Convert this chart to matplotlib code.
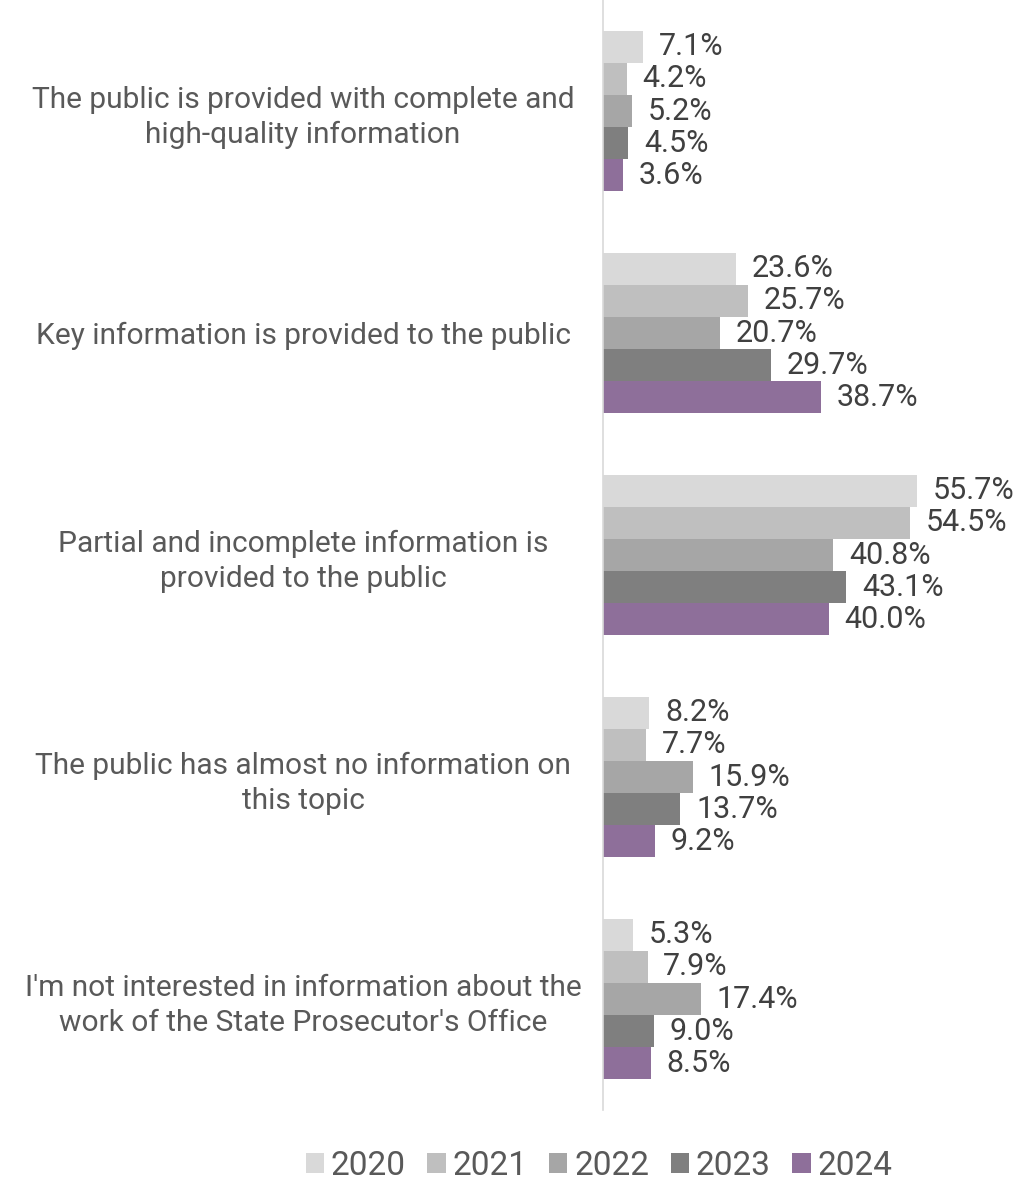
import matplotlib
matplotlib.use("Agg")
import matplotlib.pyplot as plt
import numpy as np

categories = [
    "The public is provided with complete and\nhigh-quality information",
    "Key information is provided to the public",
    "Partial and incomplete information is\nprovided to the public",
    "The public has almost no information on\nthis topic",
    "I'm not interested in information about the\nwork of the State Prosecutor's Office",
]
years = ["2020", "2021", "2022", "2023", "2024"]
values = {
    "2020": [7.1, 23.6, 55.7, 8.2, 5.3],
    "2021": [4.2, 25.7, 54.5, 7.7, 7.9],
    "2022": [5.2, 20.7, 40.8, 15.9, 17.4],
    "2023": [4.5, 29.7, 43.1, 13.7, 9.0],
    "2024": [3.6, 38.7, 40.0, 9.2, 8.5],
}
colors = ["#D9D9D9", "#BFBFBF", "#A6A6A6", "#7F7F7F", "#8E6F9A"]

plt.rcParams['font.family'] = ['Roboto', 'DejaVu Sans']

fig = plt.figure(figsize=(10.22, 11.8), dpi=100)
ax = fig.add_axes([603/1022, 1 - 1110/1180, (1000-603)/1022, 1110/1180])

n = len(categories)
bh = 0.145
y = np.arange(n)
for i, yr in enumerate(years):
    pos = y - 2*bh + i*bh
    bars = ax.barh(pos, values[yr], height=bh, color=colors[i], label=yr)
    for b, v in zip(bars, values[yr]):
        ax.text(b.get_width() + 2.8, b.get_y() + b.get_height()/2, f"{v:.1f}%",
                va="center", ha="left", fontsize=22, color="#404040")

ax.set_ylim(n - 0.5, -0.5)
ax.set_xlim(0, (1000-603)/5.64)
ax.set_yticks(y)
ax.set_yticklabels(categories, fontsize=21.5, color="#595959", ha="center",
                   linespacing=1.3)
ax.tick_params(axis='y', length=0, pad=0)
for lbl in ax.get_yticklabels():
    lbl.set_transform(lbl.get_transform() + matplotlib.transforms.ScaledTranslation(-300/100, 0, fig.dpi_scale_trans))
ax.set_xticks([])
for s in ["top", "right", "bottom"]:
    ax.spines[s].set_visible(False)
ax.spines["left"].set_color("#D9D9D9")
ax.spines["left"].set_linewidth(1.2)

leg = fig.legend(loc="center", bbox_to_anchor=(599/1022, 1 - 1166/1180), ncol=5,
                 frameon=False, fontsize=24, handlelength=0.55, handleheight=0.55,
                 handletextpad=0.2, columnspacing=0.65)
for t in leg.get_texts():
    t.set_color("#595959")

fig.savefig("out.png", dpi=100)
